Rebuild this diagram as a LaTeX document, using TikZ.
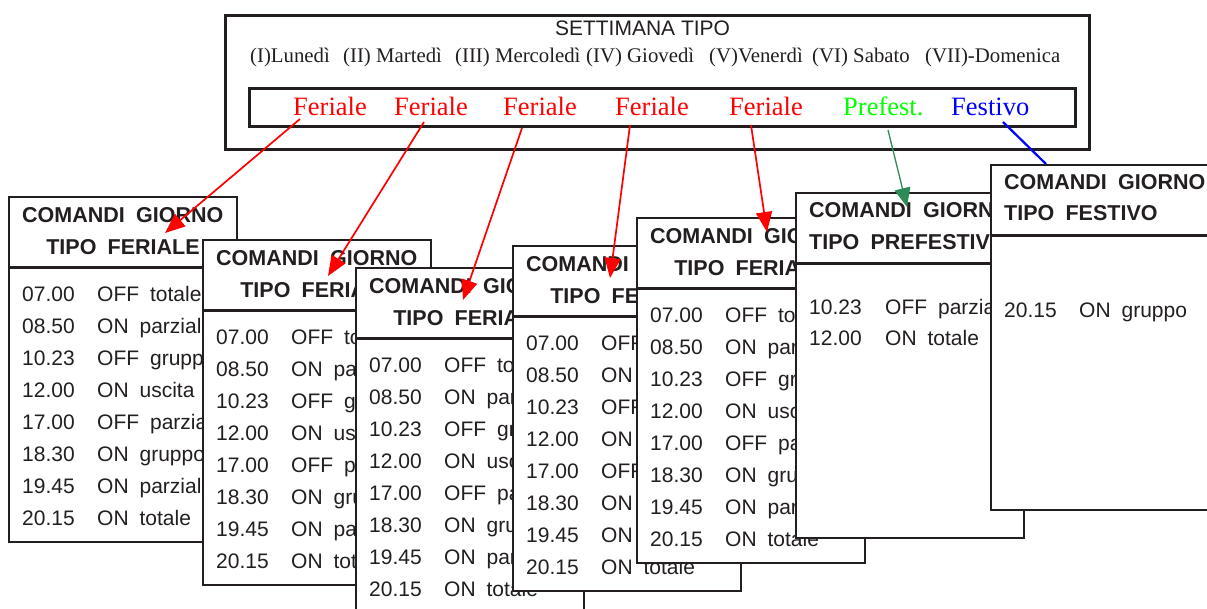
\documentclass[tikz,border=0pt]{standalone}
\usepackage{fontspec}
\setmainfont{Liberation Serif}
\setsansfont{Liberation Sans}
\usetikzlibrary{arrows.meta,calc}
\definecolor{ink}{RGB}{35,31,32}
\definecolor{segreen}{RGB}{46,139,87}
\newcommand\wgap{\hspace{0.52em}}
\newcommand\cardfont{\sffamily\fontsize{21}{25}\selectfont}
\newcommand\headfont{\sffamily\bfseries\fontsize{21.5}{25}\selectfont}
\newcommand\dayfont{\rmfamily\fontsize{20.8}{24}\selectfont}
\newcommand\labfont{\rmfamily\fontsize{26.5}{30}\selectfont}

\tikzset{
  cardbox/.style={draw=ink, line width=2.6pt, fill=white, minimum width=228pt,
    minimum height=345pt, anchor=north west, inner sep=0pt, outer sep=0pt},
  sepline/.style={draw=ink, line width=2.6pt},
  rowtxt/.style={anchor=base west, inner sep=0pt, text=ink, font=\cardfont},
  headtxt/.style={anchor=base west, inner sep=0pt, text=ink, font=\headfont},
  headc/.style={anchor=base, inner sep=0pt, text=ink, font=\headfont},
  daytxt/.style={anchor=base west, inner sep=0pt, text=ink, font=\dayfont},
  labtxt/.style={anchor=base west, inner sep=0pt, font=\labfont},
  framebox/.style={draw=ink, line width=2.6pt, fill=white},
  redarrow/.style={draw=red, line width=1.7pt, -{Triangle[length=20pt,width=16pt]}},
  greenarrow/.style={draw=segreen, line width=1.3pt, fill=segreen, -{Triangle[length=19pt,width=16pt]}},
  blueline/.style={draw=blue, line width=2.2pt},
}

% card frame: name, left, top
\newcommand\cardframe[3]{%
  \node[cardbox] (#1) at (#2,#3) {};
  \draw[sepline] (#2,{#3+70.5}) -- ({#2+228},{#3+70.5});
}
% weekday card: name, left, top
\newcommand\ferialecard[3]{%
  \cardframe{#1}{#2}{#3}
  \node[headtxt] (#1h1) at ({#2+13},{#3+25.3}) {COMANDI\wgap GIORNO};
  \node[headc] (#1h2) at ({#2+114},{#3+57.3}) {TIPO\wgap FERIALE};
  \foreach \tm/\cm [count=\k from 0] in {07.00/OFF\wgap totale, 08.50/ON\wgap parziale,
      10.23/OFF\wgap gruppo, 12.00/ON\wgap uscita, 17.00/OFF\wgap parziale,
      18.30/ON\wgap gruppo, 19.45/ON\wgap parziale, 20.15/ON\wgap totale}{
    \node[rowtxt] (#1t\k) at ({#2+13},{#3+104.5+32*\k}) {\tm};
    \node[rowtxt] (#1c\k) at ({#2+88},{#3+104.5+32*\k}) {\cm};
  }
}

\begin{document}
\begin{tikzpicture}[x=1pt,y=-1pt]
\useasboundingbox (0,0) rectangle (1207,608);
\clip (0,0) rectangle (1207,608);
\fill[white] (0,0) rectangle (1207,608);

% top frame
\node[framebox, minimum width=864pt, minimum height=134pt, anchor=north west, inner sep=0pt] (week) at (224,14) {};
\node[anchor=base, inner sep=0pt, text=ink, font=\sffamily\fontsize{21}{24}\selectfont] (title) at (642.5,35) {SETTIMANA TIPO};
\node[daytxt] (d1) at (250,62) {(I)Lunedì};
\node[daytxt] (d2) at (343,62) {(II) Martedì};
\node[daytxt] (d3) at (455,62) {(III) Mercoledì};
\node[daytxt] (d4) at (586,62) {(IV) Giovedì};
\node[daytxt] (d5) at (709,62) {(V)Venerdì};
\node[daytxt] (d6) at (812,62) {(VI) Sabato};
\node[daytxt] (d7) at (925,62) {(VII)-Domenica};
\node[framebox, minimum width=826pt, minimum height=38pt, anchor=north west, inner sep=0pt] (types) at (248,87) {};
\node[labtxt, text=red] (f1) at (293,115) {Feriale};
\node[labtxt, text=red] (f2) at (394,115) {Feriale};
\node[labtxt, text=red] (f3) at (503,115) {Feriale};
\node[labtxt, text=red] (f4) at (615,115) {Feriale};
\node[labtxt, text=red] (f5) at (729,115) {Feriale};
\node[labtxt, text=green] (f6) at (843,115) {Prefest.};
\node[labtxt, text=blue] (f7) at (951,115) {Festivo};

% cards
\ferialecard{c1}{9}{197}
\ferialecard{c2}{203}{240}
\ferialecard{c3}{356}{268}
\ferialecard{c4}{513}{246}
\ferialecard{c5}{637}{218}

\cardframe{c6}{796}{193}
\node[headtxt] (c6h1) at (809,217.7) {COMANDI\wgap GIORNO};
\node[headtxt] (c6h2) at (809,249.7) {TIPO\wgap PREFESTIVO};
\node[rowtxt] (c6t0) at (809,314.5) {10.23};
\node[rowtxt] (c6c0) at (885,314.5) {OFF\wgap parziale};
\node[rowtxt] (c6t1) at (809,345.5) {12.00};
\node[rowtxt] (c6c1) at (885,345.5) {ON\wgap totale};

\cardframe{c7}{991}{165}
\node[headtxt] (c7h1) at (1004,189.7) {COMANDI\wgap GIORNO};
\node[headtxt] (c7h2) at (1004,220.7) {TIPO\wgap FESTIVO};
\node[rowtxt] (c7t0) at (1004,317.5) {20.15};
\node[rowtxt] (c7c0) at (1079,317.5) {ON\wgap gruppo};

% connectors
\coordinate (s1) at (300,119); \coordinate (e1) at (165,233);
\coordinate (s2) at (424,122); \coordinate (e2) at (328,276);
\coordinate (s3) at (522,128); \coordinate (e3) at (463,300);
\coordinate (s4) at (630,125); \coordinate (e4) at (610,278);
\coordinate (s5) at (751,125); \coordinate (e5) at (767,232);
\coordinate (s6) at (888,130); \coordinate (e6) at (907,207);
\coordinate (s7) at (1003,122); \coordinate (e7) at (1046,164);
\draw[redarrow] (s1) -- (e1);
\draw[redarrow] (s2) -- (e2);
\draw[redarrow] (s3) -- (e3);
\draw[redarrow] (s4) -- (e4);
\draw[redarrow] (s5) -- (e5);
\draw[greenarrow] (s6) -- (e6);
\draw[blueline] (s7) -- (e7);
\end{tikzpicture}
\end{document}
